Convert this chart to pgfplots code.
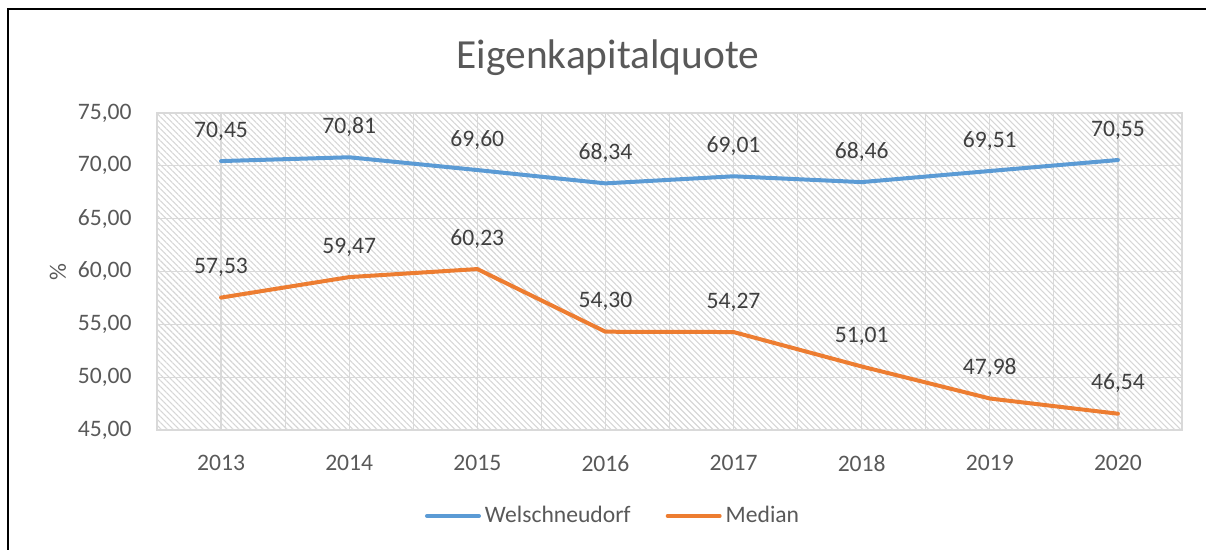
\documentclass[border=0pt]{standalone}
\usepackage{pgfplots}
\pgfplotsset{compat=1.18}
\usepackage{fontspec}
\setmainfont{Carlito}
\usetikzlibrary{patterns.meta}
\definecolor{cblue}{HTML}{5B9BD5}
\definecolor{corange}{HTML}{ED7D31}
\definecolor{txtgray}{HTML}{595959}
\definecolor{lblgray}{HTML}{404040}
\definecolor{gridgray}{HTML}{D9D9D9}
\begin{document}
\begin{tikzpicture}
\useasboundingbox (0,0) rectangle (603pt,275pt);
\draw[line width=1pt, black] (4pt,0pt) -- (4pt,270.5pt) -- (603pt,270.5pt);
\node[text=txtgray, font=\fontsize{20.7}{24}\selectfont] at (304pt,246pt) {Eigenkapitalquote};
\node[text=txtgray, font=\fontsize{11.8}{14}\selectfont, rotate=90] at (29pt,139pt) {\%};
\begin{axis}[
  at={(78.5pt,60pt)}, anchor=south west,
  scale only axis, width=512.5pt, height=158.5pt,
  xmin=-0.5, xmax=7.5, ymin=45, ymax=75,
  xtick={0,...,7},
  xticklabels={2013,2014,2015,2016,2017,2018,2019,2020},
  minor x tick num=1,
  ytick={45,50,...,75},
  xmajorgrids, xminorgrids, ymajorgrids,
  grid style={gridgray, line width=0.6pt},
  minor grid style={gridgray, line width=0.6pt},
  major tick length=0pt, minor tick length=0pt,
  axis line style={gridgray, line width=0.6pt},
  axis background/.style={pattern={Lines[angle=-45, distance=2.12pt, line width=0.55pt]}, pattern color=black!16},
  tick label style={text=txtgray, font=\fontsize{11.8}{14}\selectfont},
  /pgf/number format/assume math mode=true,
  yticklabel style={/pgf/number format/fixed, /pgf/number format/fixed zerofill, /pgf/number format/precision=2, /pgf/number format/use comma, /pgf/number format/1000 sep={}},
  yticklabel style={anchor=east, inner sep=0pt, xshift=-12.5pt},
  xticklabel style={anchor=north, inner sep=0pt, yshift=-12.5pt},
  clip=false,
  nodes near coords,
  nodes near coords style={/pgf/number format/fixed, /pgf/number format/fixed zerofill, /pgf/number format/precision=2, /pgf/number format/use comma, /pgf/number format/1000 sep={}},
  every node near coord/.append style={anchor=base, inner sep=0pt, yshift=12pt, text=lblgray, font=\fontsize{11.8}{14}\selectfont},
  legend style={at={(0.4459,-0.2713)}, anchor=center, draw=none, fill=none, legend columns=2,
    font=\fontsize{11.8}{14}\selectfont, text=txtgray,
    /tikz/every even column/.append style={column sep=15.5pt},
    legend cell align=left, inner sep=0pt},
  legend image code/.code={\draw[#1, line cap=round] (0pt,0pt) -- (26pt,0pt);},
]
\addplot[cblue, line width=2pt, line cap=round, line join=round, mark=none] coordinates {
(0,70.45) (1,70.81) (2,69.60) (3,68.34) (4,69.01) (5,68.46) (6,69.51) (7,70.55)};
\addlegendentry{Welschneudorf}
\addplot[corange, line width=2pt, line cap=round, line join=round, mark=none] coordinates {
(0,57.53) (1,59.47) (2,60.23) (3,54.30) (4,54.27) (5,51.01) (6,47.98) (7,46.54)};
\addlegendentry{Median}
\end{axis}
\end{tikzpicture}
\end{document}
